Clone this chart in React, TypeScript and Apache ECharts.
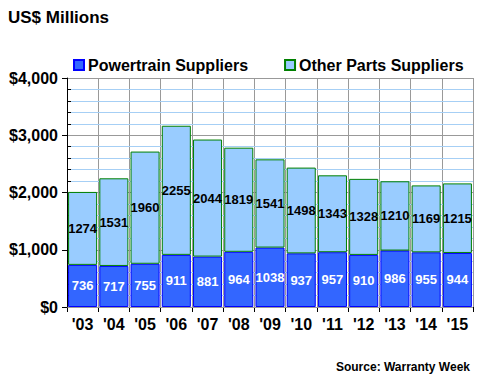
import React, { useEffect, useRef } from "react";
import * as echarts from "echarts";

const categories = ["'03", "'04", "'05", "'06", "'07", "'08", "'09", "'10", "'11", "'12", "'13", "'14", "'15"];
const powertrain = [736, 717, 755, 911, 881, 964, 1038, 937, 957, 910, 986, 955, 944];
const otherParts = [1274, 1531, 1960, 2255, 2044, 1819, 1541, 1498, 1343, 1328, 1210, 1169, 1215];
const seriesNames = ["Powertrain Suppliers", "Other Parts Suppliers"];

const FONT = "'Liberation Sans', Arial, sans-serif";

export default function App() {
  const ref = useRef<HTMLDivElement>(null);
  useEffect(() => {
    if (!ref.current) return;
    const chart = echarts.init(ref.current, null, { renderer: "svg" });
    chart.setOption({
      animation: false,
      backgroundColor: "#ffffff",
      textStyle: { fontFamily: FONT },
      graphic: [
        {
          type: "text",
          left: 8,
          top: 9,
          style: { text: "US$ Millions", fontFamily: FONT, fontSize: 17, fontWeight: "bold", fill: "#000" },
        },
        {
          type: "text",
          right: 10,
          top: 361,
          style: { text: "Source: Warranty Week", fontFamily: FONT, fontSize: 12, fontWeight: "bold", fill: "#000" },
        },
      ],
      legend: {
        top: 52,
        left: 68,
        itemWidth: 10,
        itemHeight: 10,
        itemGap: 36,
        textStyle: { fontFamily: FONT, fontSize: 16, fontWeight: "bold", color: "#000", padding: [0, 0, 0, -1] },
        data: [
          { name: seriesNames[0], icon: "rect" },
          { name: seriesNames[1], icon: "rect" },
        ],
      },
      grid: { left: 67, right: 7, top: 78, bottom: 73, containLabel: false },
      xAxis: {
        type: "category",
        data: categories,
        axisLine: { show: true, lineStyle: { color: "#000", width: 1 } },
        axisTick: { show: true, length: 5, lineStyle: { color: "#000" } },
        axisLabel: { fontFamily: FONT, fontSize: 16, fontWeight: "bold", color: "#000", margin: 9 },
        splitLine: { show: true, lineStyle: { color: "#999999", width: 1 } },
      },
      yAxis: [
        {
          type: "value",
          min: 0,
          max: 4000,
          interval: 1000,
          axisLine: { show: true, lineStyle: { color: "#000", width: 1 } },
          axisTick: { show: true, length: 5, lineStyle: { color: "#000" } },
          axisLabel: {
            fontFamily: FONT,
            fontSize: 16,
            fontWeight: "bold",
            color: "#000",
            margin: 9,
            formatter: (v: number) => "$" + v.toLocaleString("en-US"),
          },
          splitLine: { show: true, lineStyle: { color: "#999999", width: 1 } },
          z: 3,
        },
        {
          type: "value",
          min: 0,
          max: 4000,
          interval: 200,
          position: "left",
          axisLine: { show: false },
          axisTick: { show: true, inside: true, length: 4, lineStyle: { color: "#000" } },
          axisLabel: { show: false },
          splitLine: { show: true, lineStyle: { color: "#a6cff5", width: 1 } },
          z: 1,
        },
      ],
      series: [
        {
          name: seriesNames[0],
          type: "bar",
          stack: "total",
          data: powertrain,
          barCategoryGap: "7%",
          itemStyle: { color: "#3366ff", borderColor: "#0000ff", borderWidth: 1 },
          label: {
            show: true,
            position: "inside",
            fontFamily: FONT,
            fontSize: 13,
            fontWeight: "bold",
            color: "#ffffff",
          },
          z: 5,
        },
        {
          name: seriesNames[1],
          type: "bar",
          stack: "total",
          data: otherParts,
          barCategoryGap: "7%",
          itemStyle: { color: "#99ccff", borderColor: "#008000", borderWidth: 1 },
          label: {
            show: true,
            position: "inside",
            fontFamily: FONT,
            fontSize: 13,
            fontWeight: "bold",
            color: "#000000",
          },
          z: 5,
        },
      ],
    });
    return () => chart.dispose();
  }, []);
  return <div ref={ref} style={{ position: "fixed", left: 0, top: 0, width: 480, height: 380 }} />;
}
